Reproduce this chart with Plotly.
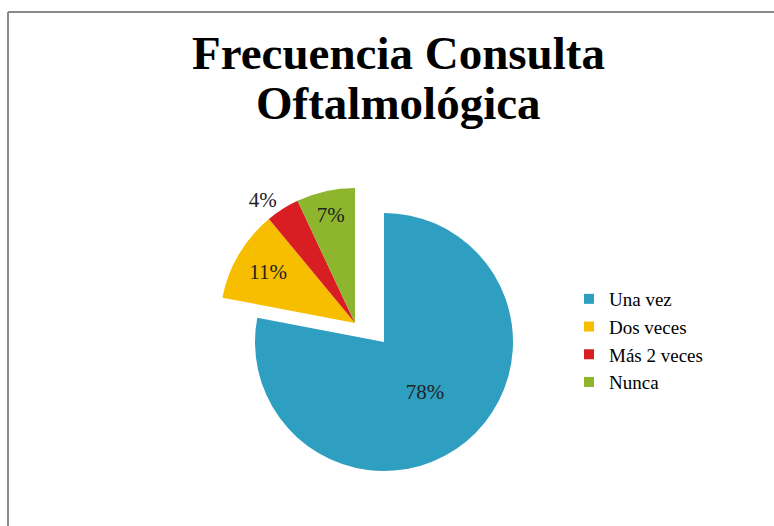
import plotly.graph_objects as go

# ---- data ----
categories = ["Una vez", "Dos veces", "Más 2 veces", "Nunca"]
values = [78, 11, 4, 7]
colors = ["#2E9FC0", "#F7BE00", "#D81E22", "#8DB52E"]
title_lines = ["Frecuencia Consulta", "Oftalmológica"]

W, H = 774, 526
FONT = "Liberation Serif"

def dom(cx, cy, r):
    return dict(x=[(cx - r) / W, (cx + r) / W], y=[1 - (cy + r) / H, 1 - (cy - r) / H])

labels_txt = [f"{v}%" for v in values]
transparent = "rgba(0,0,0,0)"

fig = go.Figure()

# main (not exploded) slice
fig.add_trace(go.Pie(
    labels=categories, values=values, sort=False, direction="clockwise", rotation=0,
    marker=dict(colors=[colors[0]] + [transparent] * 3, line=dict(width=0)),
    text=[labels_txt[0], "", "", ""], textinfo="text", textposition="inside",
    insidetextorientation="horizontal",
    textfont=dict(family=FONT, size=21, color="#222222"),
    domain=dom(384, 342, 129), showlegend=False, hoverinfo="label+percent",
))

# exploded slices
fig.add_trace(go.Pie(
    labels=categories, values=values, sort=False, direction="clockwise", rotation=0,
    marker=dict(colors=[transparent] + colors[1:], line=dict(width=0)),
    text=[""] + labels_txt[1:], textinfo="text",
    textposition=["none", "inside", "outside", "inside"],
    insidetextorientation="horizontal",
    textfont=dict(family=FONT, size=21, color="#222222"),
    domain=dom(355, 323, 135), showlegend=False, hoverinfo="label+percent",
))

# legend entries
for c, col in zip(categories, colors):
    fig.add_trace(go.Scatter(
        x=[None], y=[None], mode="markers", name=c, legendgroup=c,
        marker=dict(symbol="square", size=10, color=col, line=dict(width=0)),
    ))

annotations = []
for i, line in enumerate(title_lines):
    annotations.append(dict(
        text="<b>" + line + "</b>", xref="paper", yref="paper",
        x=398 / W, y=1 - (53 + 50 * i) / H, xanchor="center", yanchor="middle",
        showarrow=False, font=dict(family=FONT, size=47, color="black"),
    ))

fig.update_layout(
    width=W, height=H,
    margin=dict(l=0, r=0, t=0, b=0),
    paper_bgcolor="white", plot_bgcolor="white",
    xaxis=dict(visible=False), yaxis=dict(visible=False),
    annotations=annotations,
    legend=dict(x=569 / W, y=1 - 280 / H, xanchor="left", yanchor="top",
                font=dict(family=FONT, size=19, color="black"),
                tracegroupgap=0, itemwidth=30, bgcolor="rgba(0,0,0,0)"),
    shapes=[
        dict(type="line", xref="paper", yref="paper", x0=8 / W, x1=1.02, y0=1 - 12 / H, y1=1 - 12 / H,
             line=dict(color="#8A8A8A", width=2)),
        dict(type="line", xref="paper", yref="paper", x0=8 / W, x1=8 / W, y0=1 - 12 / H, y1=-0.02,
             line=dict(color="#8A8A8A", width=2)),
    ],
)

fig.write_html("out.html", config={"displayModeBar": False},
               post_script="document.body.style.margin='0';")
